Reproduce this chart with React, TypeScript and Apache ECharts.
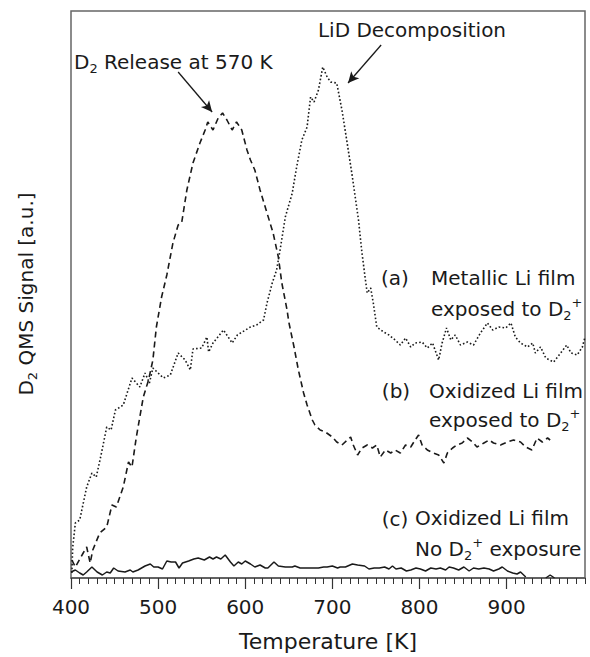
import React, { useEffect, useRef } from "react";
import * as echarts from "echarts";

// (a) Metallic Li film exposed to D2+  (dotted)
const tempA = [401,402,405,410,418,424,429,435,441,446,451,460,470,479,485,490,494,506,514,523,531,537,540,550,556,558,563,575,585,591,606,613,621,625,631,636,640,646,654,659,665,671,675,679,684,689,694,698,705,711,717,723,730,734,738,740,744,747,751,759,765,772,778,784,790,795,803,809,815,822,826,831,836,841,847,855,862,870,878,884,891,899,905,910,916,924,930,933,939,945,954,962,969,974,981,987,990];
const signalA = [5,31,55,58,91,105,101,125,151,148,168,173,200,191,205,195,210,200,203,225,218,208,229,230,241,226,235,248,235,243,251,253,258,275,295,308,328,361,385,411,438,451,481,476,488,511,501,496,495,468,435,401,358,325,298,285,290,275,251,246,243,238,233,240,231,235,236,230,235,218,235,250,238,243,233,236,233,245,255,248,251,250,255,241,235,231,235,225,231,220,216,225,233,225,223,231,241];

// (b) Oxidized Li film exposed to D2+  (dashed)
const tempB = [401,405,414,418,422,425,433,441,447,452,460,466,470,475,483,489,494,498,504,510,517,523,527,533,540,548,554,557,563,569,574,579,585,590,596,602,606,611,617,625,632,638,642,648,650,656,661,667,671,677,680,686,692,700,705,711,721,724,729,734,740,746,751,755,761,767,772,778,784,790,795,799,803,809,816,822,828,832,838,843,849,855,861,866,874,880,885,893,901,908,916,922,929,935,941,947,950];
const signalB = [18,11,25,31,15,28,45,51,73,71,91,116,111,141,181,198,218,251,281,303,335,353,355,388,415,435,448,456,448,460,465,458,448,456,448,428,418,408,388,365,345,321,295,268,256,231,208,185,173,158,153,148,146,141,136,133,141,133,123,130,133,130,133,121,128,125,128,125,133,131,138,143,133,128,125,123,115,125,130,133,135,140,136,131,135,138,135,133,136,138,136,131,128,140,136,140,138];

// (c) Oxidized Li film, no D2+ exposure  (solid); null = hidden on the axis
const tempC = [400,405,410,414,418,424,430,436,441,445,449,454,462,468,471,477,485,491,495,500,505,510,515,520,524,528,535,541,546,553,559,563,567,572,577,583,587,592,596,600,606,611,617,623,626,633,638,646,654,657,663,671,677,684,690,694,700,706,709,715,723,729,737,742,748,754,760,765,769,773,779,785,790,796,801,807,813,819,824,830,834,839,845,851,857,862,868,874,880,885,891,895,901,907,912,916,922,935,945,950,955];
const signalC = [6,8,5,3,6,11,6,3,6,5,10,7,6,8,6,8,12,14,11,11,9,17,16,16,10,15,17,19,20,18,21,19,21,19,23,16,12,16,14,17,14,11,13,10,10,16,12,11,11,12,10,10,10,10,11,11,12,10,11,11,14,13,12,9,10,10,11,9,12,9,10,7,8,10,9,7,10,9,10,8,11,10,8,11,7,10,9,10,9,7,9,11,7,5,4,6,1,null,0,3,0];

// x-axis ticks
const majorTicks = [400, 500, 600, 700, 800, 900];
const xMin = 400;
const xMax = 990;
const yMax = 567;

// annotation arrows: [startT, startSignal, endT, endSignal]
const arrowLiD = [756, 533, 718, 495];
const arrowRelease = [523, 506, 562, 466];

const FONT = "DejaVu Sans";
const INK = "#1a1a1a";

const rich = {
  n: { fontSize: 20, fontFamily: FONT, lineHeight: 26, fill: INK },
  t: { fontSize: 22, fontFamily: FONT, lineHeight: 28, fill: INK },
  sub: { fontSize: 13, fontFamily: FONT, lineHeight: 12, verticalAlign: "bottom", fill: INK },
  sup: { fontSize: 13, fontFamily: FONT, lineHeight: 12, verticalAlign: "top", fill: INK },
};

function txt(text: string, x: number, y: number, align = "left", extra: any = {}) {
  return {
    type: "text",
    x,
    y,
    silent: true,
    ...extra,
    style: {
      text,
      rich,
      align,
      verticalAlign: "middle",
      fill: INK,
      fontSize: 20,
      fontFamily: FONT,
    },
  };
}

function zip(xs: number[], ys: (number | null)[]) {
  return xs.map((x, i) => [x, ys[i]]);
}

export default function App() {
  const ref = useRef<HTMLDivElement>(null);
  useEffect(() => {
    if (!ref.current) return;
    const chart = echarts.init(ref.current, undefined, { renderer: "svg" });
    const option: any = {
      animation: false,
      backgroundColor: "#ffffff",
      grid: {
        left: 71,
        right: 5,
        top: 11,
        bottom: 79,
        show: true,
        borderColor: "#666",
        borderWidth: 1.5,
        backgroundColor: "transparent",
      },
      xAxis: [
        {
          type: "value",
          min: xMin,
          max: xMax,
          interval: 10,
          position: "bottom",
          axisLine: { show: true, lineStyle: { color: "#555", width: 1.5 } },
          axisTick: { show: true, length: 6, lineStyle: { color: "#333", width: 1 } },
          axisLabel: { show: false },
          splitLine: { show: false },
        },
        {
          type: "value",
          min: xMin,
          max: xMax,
          interval: 100,
          position: "bottom",
          axisLine: { show: false },
          axisTick: { show: true, length: 11, customValues: majorTicks, lineStyle: { color: "#333", width: 1.2 } },
          axisLabel: {
            show: true,
            customValues: majorTicks,
            fontSize: 20,
            fontFamily: FONT,
            color: INK,
            margin: 19,
            formatter: (v: number) => (v % 100 === 0 ? String(v) : ""),
          },
          splitLine: { show: false },
        },
      ],
      yAxis: {
        type: "value",
        min: 0,
        max: yMax,
        show: false,
        splitLine: { show: false },
      },
      series: [
        {
          type: "line",
          name: "a",
          data: zip(tempA, signalA),
          symbol: "none",
          lineStyle: { color: INK, width: 1.6, type: [1.6, 2.2] },
          markLine: {
            silent: true,
            symbol: ["none", "arrow"],
            symbolSize: [8, 11],
            label: { show: false },
            lineStyle: { type: "solid", color: INK, width: 1.3 },
            data: [
              [{ coord: [arrowLiD[0], arrowLiD[1]] }, { coord: [arrowLiD[2], arrowLiD[3]] }],
              [{ coord: [arrowRelease[0], arrowRelease[1]] }, { coord: [arrowRelease[2], arrowRelease[3]] }],
            ],
          },
        },
        {
          type: "line",
          name: "b",
          data: zip(tempB, signalB),
          symbol: "none",
          lineStyle: { color: INK, width: 1.6, type: [6, 4] },
        },
        {
          type: "line",
          name: "c",
          data: zip(tempC, signalC),
          symbol: "none",
          connectNulls: false,
          lineStyle: { color: INK, width: 1.5, type: "solid" },
        },
      ],
      graphic: [
        txt("{n|LiD Decomposition}", 412, 30, "center"),
        txt("{n|D}{sub|2}{n| Release at 570 K}", 74, 62),
        txt("{n|(a)}", 395, 278, "center"),
        txt("{n|Metallic Li film}", 431, 278),
        txt("{n|exposed to D}{sub|2}{sup|+}", 431, 309),
        txt("{n|(b)}", 396, 391, "center"),
        txt("{n|Oxidized Li film}", 429, 391),
        txt("{n|exposed to D}{sub|2}{sup|+}", 429, 420),
        txt("{n|(c)}", 395, 519, "center"),
        txt("{n|Oxidized Li film}", 415, 518),
        txt("{n|No D}{sub|2}{sup|+}{n| exposure}", 415, 549),
        txt("{t|Temperature [K]}", 328, 641, "center"),
        txt("{n|D}{sub|2}{n| QMS Signal [a.u.]}", 26, 294, "center", { rotation: Math.PI / 2 }),
      ],
    };
    chart.setOption(option);
    return () => chart.dispose();
  }, []);
  return (
    <div
      ref={ref}
      style={{ position: "fixed", left: 0, top: 0, width: 590, height: 657, background: "#fff" }}
    />
  );
}
